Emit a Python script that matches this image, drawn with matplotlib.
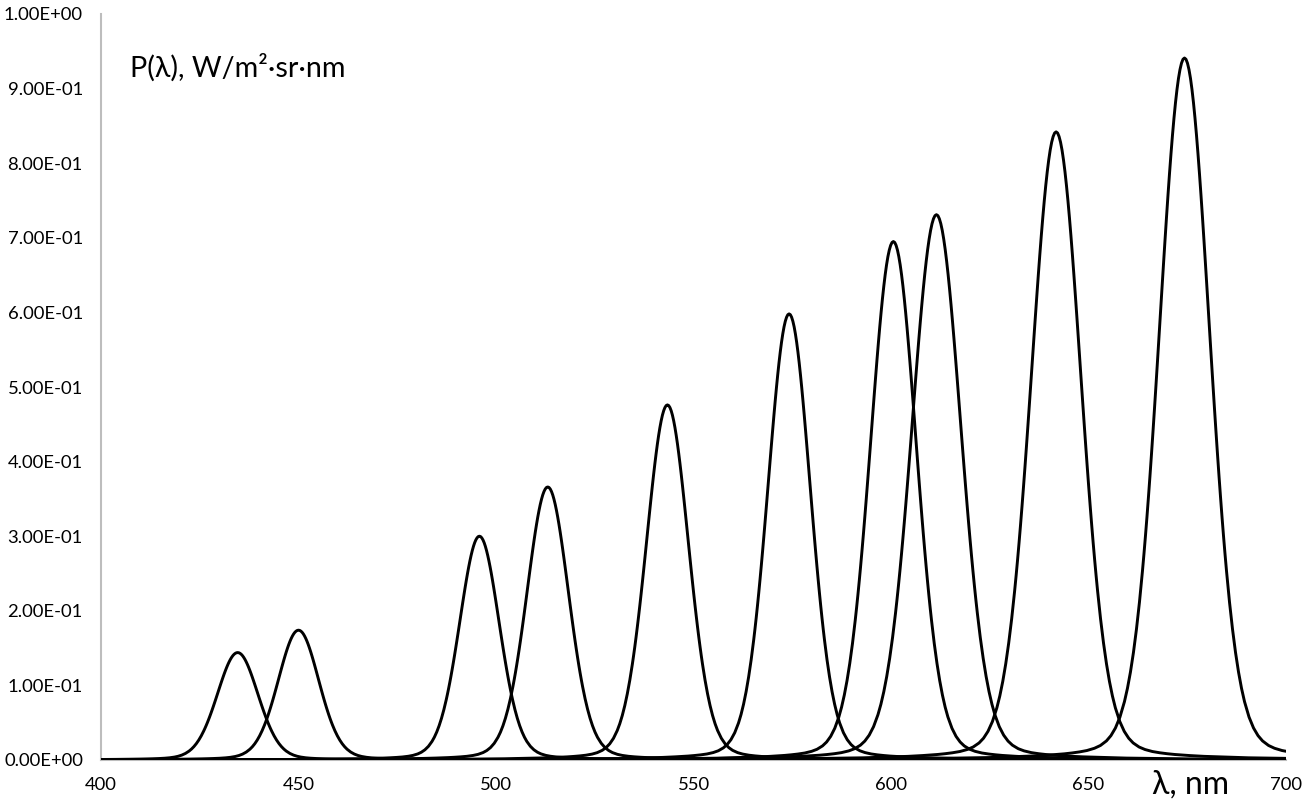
import numpy as np
import matplotlib
matplotlib.use("Agg")
import matplotlib.pyplot as plt
from matplotlib.ticker import FuncFormatter

# ---- data ----
peak_nm = [434.6, 450.0, 495.8, 513.1, 543.4, 574.2, 600.6, 611.5, 641.8, 674.3]
peak_height = [0.144, 0.174, 0.300, 0.366, 0.476, 0.598, 0.695, 0.731, 0.842, 0.941]
fwhm_nm = [12.3, 12.3, 12.0, 12.6, 12.7, 12.8, 13.8, 14.8, 15.0, 15.2]

# normalised line profile (offset in half-widths -> relative level)
profile_offset = [0, 0.05, 0.1, 0.15, 0.2, 0.25, 0.3, 0.35, 0.4, 0.45, 0.5, 0.55, 0.6,
                  0.65, 0.7, 0.75, 0.8, 0.85, 0.9, 0.95, 1.0, 1.05, 1.1, 1.15, 1.2, 1.25,
                  1.3, 1.35, 1.4, 1.5, 1.6, 1.7, 1.8, 1.9, 2.0, 2.15, 2.3, 2.45, 2.6, 2.8,
                  3.0, 3.25, 3.5, 3.75, 4.0, 4.5, 5.0, 6.5, 8.5, 11, 15, 20, 30, 50]
profile_value = [1.0, 0.9982, 0.9926, 0.9835, 0.9710, 0.9551, 0.9362, 0.9144, 0.8901,
                 0.8634, 0.8348, 0.8044, 0.7726, 0.7396, 0.7059, 0.6716, 0.6369, 0.6022,
                 0.5677, 0.5336, 0.5000, 0.4672, 0.4353, 0.4045, 0.3748, 0.3463, 0.3192,
                 0.2935, 0.2692, 0.2248, 0.1863, 0.1532, 0.1253, 0.1021, 0.0831, 0.0612,
                 0.0456, 0.0347, 0.0272, 0.0207, 0.0167, 0.0135, 0.0115, 0.0100, 0.0088,
                 0.0071, 0.0058, 0.0035, 0.0021, 0.0012, 0.0007, 0.0004, 0.0002, 0.0001]

x_ticks = [400, 450, 500, 550, 600, 650, 700]
y_ticks = [0.0, 0.1, 0.2, 0.3, 0.4, 0.5, 0.6, 0.7, 0.8, 0.9, 1.0]

y_title = "P(λ), W/m²·sr·nm"
x_title = "λ, nm"

plt.rcParams['font.family'] = ['Lato', 'DejaVu Sans']

W, H = 1306, 808
fig = plt.figure(figsize=(W / 100, H / 100), dpi=100)
ax = fig.add_axes([101 / W, 48 / H, 1185 / W, 746 / H])

off = np.array(profile_offset, dtype=float)
val = np.array(profile_value, dtype=float)
u = np.concatenate([-off[::-1], off[1:]])
p = np.concatenate([val[::-1], val[1:]])

for c, h, fw in zip(peak_nm, peak_height, fwhm_nm):
    ax.plot(c + u * fw / 2.0, h * p, color='black', lw=2.1, solid_joinstyle='round',
            solid_capstyle='round', zorder=3)

ax.set_xlim(400, 700)
ax.set_ylim(0, 1.0)
ax.set_xticks(x_ticks)
ax.set_yticks(y_ticks)
ax.yaxis.set_major_formatter(FuncFormatter(lambda v, pos: f"{v:.2E}"))

for s in ('top', 'right'):
    ax.spines[s].set_visible(False)
ax.spines['left'].set_color('#bdbdbd')
ax.spines['left'].set_linewidth(1.5)
ax.spines['bottom'].set_color('#bdbdbd')
ax.spines['bottom'].set_linewidth(1.5)

ax.tick_params(axis='both', length=0, labelsize=13.3, colors='black')
ax.tick_params(axis='x', pad=12)
ax.tick_params(axis='y', pad=13)

fig.text(130 / W, 1 - 68 / H, y_title, ha='left', va='center', fontsize=20.7)
fig.text(1191 / W, 1 - 785 / H, x_title, ha='center', va='center', fontsize=23)

fig.savefig("out.png", dpi=100)
